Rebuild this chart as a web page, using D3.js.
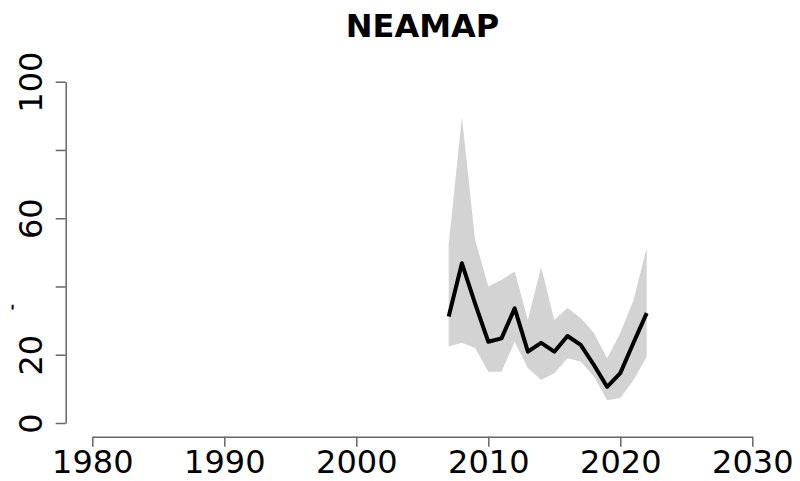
<!DOCTYPE html>
<html><head><meta charset="utf-8">
<script src="https://cdn.jsdelivr.net/npm/d3@7"></script>
<style>body{margin:0;background:#fff}svg{display:block}</style>
</head><body>
<svg id="chart" width="800" height="481"></svg>
<script>
const title = "NEAMAP";
const years = [2007,2008,2009,2010,2011,2012,2013,2014,2015,2016,2017,2018,2019,2020,2021,2022];
const estimate = [31.2,46.8,35.0,23.8,24.8,33.6,20.9,23.5,20.9,25.5,22.9,17.0,10.6,14.6,23.5,32.2];
const upper = [52.2,89.7,53.7,40.0,42.0,44.4,30.2,45.8,30.2,33.7,30.8,26.4,19.0,26.4,36.0,51.3];
const lower = [22.4,23.5,22.0,15.0,15.0,23.8,16.1,12.6,14.6,19.0,18.0,13.6,6.7,7.3,12.6,19.4];
const xTicks = [1980,1990,2000,2010,2020,2030];
const yTicks = [0,20,40,60,80,100];
const yLabels = [0,20,60,100];
const yAxisTitle = "-";

const svg = d3.select("#chart");
const x = d3.scaleLinear().domain([1980,2030]).range([92.3,752.3]);
const y = d3.scaleLinear().domain([0,100]).range([423,81.7]);
const font = "DejaVu Sans, sans-serif";

const data = years.map((yr,i)=>({yr, est:estimate[i], lo:lower[i], hi:upper[i]}));

svg.append("path").datum(data)
  .attr("fill","#d3d3d3")
  .attr("d", d3.area().x(d=>x(d.yr)).y0(d=>y(d.lo)).y1(d=>y(d.hi)));

svg.append("path").datum(data)
  .attr("fill","none").attr("stroke","#000").attr("stroke-width",4)
  .attr("stroke-linejoin","round")
  .attr("d", d3.line().x(d=>x(d.yr)).y(d=>y(d.est)));

// X axis
const xAxis = svg.append("g").attr("transform","translate(0,436.7)")
  .call(d3.axisBottom(x).tickValues(xTicks).tickSize(10).tickSizeOuter(0).tickFormat(d3.format("d")));
xAxis.select(".domain").attr("stroke","#666").attr("stroke-width",1.5);
xAxis.selectAll(".tick line").attr("stroke","#666").attr("stroke-width",1.5);
xAxis.selectAll(".tick text").attr("font-family",font).attr("font-size",32)
  .attr("fill","#000").attr("dy",null).attr("y",36.5);

// Y axis
const yAxis = svg.append("g").attr("transform","translate(65.7,0)")
  .call(d3.axisLeft(y).tickValues(yTicks).tickSize(10).tickSizeOuter(0).tickFormat(d=>yLabels.includes(d)?String(d):""));
yAxis.select(".domain").attr("stroke","#666").attr("stroke-width",1.5);
yAxis.selectAll(".tick line").attr("stroke","#666").attr("stroke-width",1.5);
yAxis.selectAll(".tick text").attr("font-family",font).attr("font-size",32)
  .attr("fill","#000").attr("text-anchor","middle").attr("dy",null).attr("x",null)
  .attr("transform","translate(-24,0) rotate(-90)");

svg.append("text").attr("transform","translate(17,307) rotate(-90)")
  .attr("text-anchor","middle").attr("font-family",font).attr("font-size",16)
  .attr("stroke","#000").attr("stroke-width",0.6)
  .text(yAxisTitle);

svg.append("text").attr("x",422.5).attr("y",36.7)
  .attr("text-anchor","middle").attr("font-family",font).attr("font-weight","bold")
  .attr("font-size",32).text(title);
</script>
</body></html>
